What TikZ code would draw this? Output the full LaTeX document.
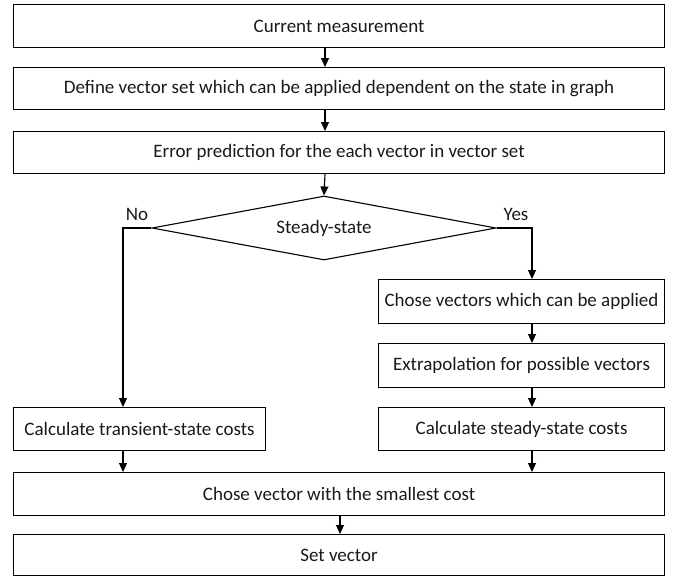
\documentclass[tikz,border=0pt]{standalone}
\usepackage{fontspec}
\setmainfont{Carlito}
\usetikzlibrary{shapes.geometric,arrows.meta}
\begin{document}
\begin{tikzpicture}[x=1pt,y=-1pt,
  every node/.style={font=\fontsize{19}{22}\selectfont, text=black!90},
  box/.style={draw, line width=1.1pt, inner sep=0pt, anchor=north west},
  conn/.style={line width=1.1pt, -{Triangle[length=9pt,width=8pt]}},
  lbl/.style={inner sep=0pt}]
\useasboundingbox (0,0) rectangle (673,576);
\node[box, minimum width=651pt, minimum height=43pt] (b1) at (13,4) {Current measurement};
\node[box, minimum width=651pt, minimum height=42pt] (b2) at (13,67) {Define vector set which can be applied dependent on the state in graph};
\node[box, minimum width=651pt, minimum height=42pt] (b3) at (13,131) {Error prediction for the each vector in vector set};
\node[diamond, draw, line width=1.1pt, inner sep=0pt, minimum width=344pt, minimum height=64pt, aspect=5.4] (d) at (324,228) {Steady-state};
\node[box, minimum width=286pt, minimum height=44pt] (r1) at (378,279) {Chose vectors which can be applied};
\node[box, minimum width=286pt, minimum height=44pt] (r2) at (378,343) {Extrapolation for possible vectors};
\node[box, minimum width=286pt, minimum height=43pt] (r3) at (378,407) {Calculate steady-state costs};
\node[box, minimum width=252pt, minimum height=43pt] (l1) at (13,407) {Calculate transient-state costs};
\node[box, minimum width=651pt, minimum height=43pt] (c) at (13,472) {Chose vector with the smallest cost};
\node[box, minimum width=651pt, minimum height=41pt] (s) at (13,534) {Set vector};
\node[lbl] (no) at (137,214) {No};
\node[lbl] (yes) at (516,214) {Yes};
\coordinate (nL) at (123,228);
\coordinate (yR) at (532,228);
\draw[conn] (b1.south -| 325,0) -- (b2.north -| 325,0);
\draw[conn] (b2.south -| 325,0) -- (b3.north -| 325,0);
\draw[conn] (b3.south -| 325,0) -- (d.north);
\draw[conn] (d.west) -- (nL) -- (l1.north -| nL);
\draw[conn] (d.east) -- (yR) -- (r1.north -| yR);
\draw[conn] (r1.south -| yR) -- (r2.north -| yR);
\draw[conn] (r2.south -| yR) -- (r3.north -| yR);
\draw[conn] (r3.south -| yR) -- (c.north -| yR);
\draw[conn] (l1.south -| nL) -- (c.north -| nL);
\draw[conn] (c.south -| 340,0) -- (s.north -| 340,0);
\end{tikzpicture}
\end{document}
